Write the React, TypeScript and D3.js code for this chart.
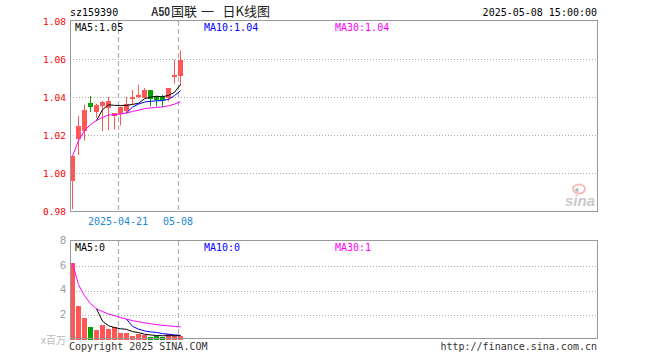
import React from 'react';
import * as d3 from 'd3';

const dates = [
  '2025-04-09', '2025-04-10', '2025-04-11', '2025-04-14', '2025-04-15', '2025-04-16', '2025-04-17',
  '2025-04-18', '2025-04-21', '2025-04-22', '2025-04-23', '2025-04-24', '2025-04-25', '2025-04-28',
  '2025-04-29', '2025-04-30', '2025-05-06', '2025-05-07', '2025-05-08',
];
const opens = [0.996, 1.018, 1.022, 1.037, 1.032, 1.0355, 1.034, 1.030, 1.031, 1.0328, 1.0389, 1.040, 1.0395, 1.0435, 1.0403, 1.040, 1.0395, 1.0507, 1.051];
const highs = [1.009, 1.030, 1.036, 1.0405, 1.0365, 1.038, 1.040, 1.0315, 1.035, 1.040, 1.0438, 1.0465, 1.0447, 1.0435, 1.0403, 1.041, 1.0445, 1.0596, 1.0645];
const lows = [0.981, 1.0095, 1.017, 1.032, 1.029, 1.022, 1.0226, 1.023, 1.025, 1.0316, 1.0363, 1.0395, 1.0395, 1.0351, 1.035, 1.0347, 1.0377, 1.047, 1.046];
const closes = [1.009, 1.025, 1.033, 1.035, 1.036, 1.0375, 1.038, 1.0315, 1.0347, 1.0363, 1.040, 1.0409, 1.0435, 1.039, 1.0386, 1.0386, 1.0445, 1.0517, 1.0595];
const volumes = [6.22, 2.73, 1.76, 1.02, 0.78, 1.2, 0.86, 1.02, 0.53, 0.53, 0.29, 0.45, 0.37, 0.2, 0.32, 0.2, 0.45, 0.37, 0.25];

const priceTicks = [1.08, 1.06, 1.04, 1.02, 1.0, 0.98];
const volTicks = [8, 6, 4, 2];
const dateTickDates = ['2025-04-21', '2025-05-08'];
const dateTickLabels = ['2025-04-21', '05-08'];
const titleParts = ['A50', '国联', '一', '日K线图'];

const SLOTS = 88;
const RED = '#ff5656';
const GREEN = '#03a303';
const MONO = '"DejaVu Sans Mono", monospace';
const CJK = '"Noto Sans CJK SC", sans-serif';

function movingAvg(arr: number[], n: number, partial: boolean): (number | null)[] {
  return arr.map((_, i) => {
    if (i < n - 1 && !partial) return null;
    const s = arr.slice(Math.max(0, i - n + 1), i + 1);
    return d3.mean(s) as number;
  });
}

export default function App() {
  const x = d3.scaleLinear().domain([0, SLOTS]).range([70, 598]);
  const yP = d3.scaleLinear().domain([0.98, 1.08]).range([211, 21]);
  const yV = d3.scaleLinear().domain([0, 8]).range([339.5, 241.5]);
  const cx = (i: number) => x(i) + 2.5;

  const ma5 = movingAvg(closes, 5, false);
  const ma10 = movingAvg(closes, 10, false);
  const ma30 = movingAvg(closes, 30, true);
  const vma5 = movingAvg(volumes, 5, false);
  const vma10 = movingAvg(volumes, 10, false);
  const vma30 = movingAvg(volumes, 30, true);

  const lineP = d3.line<number | null>().defined((d) => d != null).x((_, i) => cx(i)).y((d) => yP(d as number));
  const lineV = d3.line<number | null>().defined((d) => d != null).x((_, i) => cx(i)).y((d) => yV(d as number));

  const last = closes.length - 1;
  const fmt2 = d3.format('.2f');
  const fmt0 = d3.format('.0f');

  const tickIdx = dateTickDates.map((d) => dates.indexOf(d));
  const up = (i: number) => closes[i] >= opens[i];

  return (
    <svg width={660} height={360} style={{ position: 'absolute', left: 0, top: 0, background: '#fff' }}>
      {/* header */}
      <text x={70} y={16} fontFamily={MONO} fontSize={10} fill="#000">sz159390</text>
      <text x={151} y={16} fontFamily="Liberation Sans, sans-serif" fontWeight="bold" fontSize={12} fill="#333" textLength={19} lengthAdjust="spacingAndGlyphs">{titleParts[0]}</text>
      <text y={16} fontFamily={CJK} fontSize={13} fill="#222">
        <tspan x={171}>{titleParts[1]}</tspan>
        <tspan x={201}>{titleParts[2]}</tspan>
        <tspan x={222.5}>{titleParts[3]}</tspan>
      </text>
      <text x={597} y={16} textAnchor="end" fontFamily={MONO} fontSize={10} fill="#000">2025-05-08 15:00:00</text>

      {/* main gridlines */}
      {priceTicks.slice(1, -1).map((v) => (
        <line key={'pg' + v} x1={70} x2={598} y1={Math.round(yP(v)) + 0.5} y2={Math.round(yP(v)) + 0.5} stroke="#aaa" strokeDasharray="1,2" />
      ))}
      {tickIdx.map((i) => (
        <line key={'pv' + i} x1={x(i) + 0.5} x2={x(i) + 0.5} y1={21} y2={211} stroke="#b4b4b4" strokeWidth={1.3} strokeDasharray="5,3" />
      ))}
      {/* price labels */}
      {priceTicks.map((v) => (
        <text key={'pl' + v} x={66} y={yP(v) + 1} textAnchor="end" dominantBaseline="middle" fontFamily={MONO} fontSize={9.5} fill="#f00">{fmt2(v)}</text>
      ))}

      {/* candles */}
      {closes.map((c, i) => {
        const col = up(i) ? RED : GREEN;
        const top = yP(Math.max(opens[i], c));
        const bot = yP(Math.min(opens[i], c));
        return (
          <g key={'c' + i}>
            <line x1={cx(i)} x2={cx(i)} y1={yP(highs[i])} y2={yP(lows[i])} stroke={col} strokeWidth={1} />
            <rect x={x(i)} y={top} width={5} height={Math.max(1, bot - top)} fill={col} shapeRendering="crispEdges" />
          </g>
        );
      })}
      <path d={lineP(ma30) || ''} fill="none" stroke="#ff00ff" strokeWidth={1} />
      <path d={lineP(ma10) || ''} fill="none" stroke="#0000ff" strokeWidth={1} />
      <path d={lineP(ma5) || ''} fill="none" stroke="#000" strokeWidth={1} />

      {/* main frame */}
      <rect x={70.5} y={20.5} width={527} height={191} fill="none" stroke="#999" />

      {/* main legend */}
      <text x={75} y={31} fontFamily={MONO} fontSize={10} fill="#000">{'MA5:' + fmt2(ma5[last] as number)}</text>
      <text x={204} y={31} fontFamily={MONO} fontSize={10} fill="#0000ff">{'MA10:' + fmt2(ma10[last] as number)}</text>
      <text x={335} y={31} fontFamily={MONO} fontSize={10} fill="#ff00ff">{'MA30:' + fmt2(ma30[last] as number)}</text>

      {/* sina watermark */}
      <g opacity={0.75}>
        <ellipse cx={579} cy={189} rx={6} ry={4.5} fill="none" stroke="#f2a6a6" strokeWidth={2} />
        <circle cx={577} cy={190} r={2} fill="#aaa" />
        <text x={565} y={206} fontFamily="Liberation Sans, sans-serif" fontStyle="italic" fontWeight="bold" fontSize={15} fill="#b8b8b8">sina</text>
      </g>

      {/* date labels */}
      {tickIdx.map((i, k) => (
        <text key={'dl' + i} x={x(i)} y={225} textAnchor="middle" fontFamily={MONO} fontSize={10} fill="#1a8ad4">{dateTickLabels[k]}</text>
      ))}

      {/* volume gridlines */}
      {volTicks.slice(1).map((v) => (
        <line key={'vg' + v} x1={70} x2={598} y1={Math.round(yV(v)) + 0.5} y2={Math.round(yV(v)) + 0.5} stroke="#aaa" strokeDasharray="1,2" />
      ))}
      {tickIdx.map((i) => (
        <line key={'vv' + i} x1={x(i) + 0.5} x2={x(i) + 0.5} y1={241} y2={339} stroke="#b4b4b4" strokeWidth={1.3} strokeDasharray="5,3" />
      ))}
      {volTicks.map((v) => (
        <text key={'vl' + v} x={66} y={yV(v)} textAnchor="end" dominantBaseline="middle" fontFamily="Liberation Sans, sans-serif" fontSize={11} fill="#999">{v}</text>
      ))}
      <text x={66} y={344} textAnchor="end" fontFamily={CJK} fontSize={10} fill="#bbb">x百万</text>

      {/* volume bars */}
      {volumes.map((v, i) => (
        <rect key={'v' + i} x={x(i)} y={yV(v)} width={5} height={yV(0) - yV(v)} fill={up(i) ? RED : GREEN} shapeRendering="crispEdges" />
      ))}
      <path d={lineV(vma30) || ''} fill="none" stroke="#ff00ff" strokeWidth={1} />
      <path d={lineV(vma10) || ''} fill="none" stroke="#0000ff" strokeWidth={1} />
      <path d={lineV(vma5) || ''} fill="none" stroke="#000" strokeWidth={1} />

      <rect x={70.5} y={240.5} width={527} height={98} fill="none" stroke="#999" />

      <text x={75} y={251} fontFamily={MONO} fontSize={10} fill="#000">{'MA5:' + fmt0(vma5[last] as number)}</text>
      <text x={204} y={251} fontFamily={MONO} fontSize={10} fill="#0000ff">{'MA10:' + fmt0(vma10[last] as number)}</text>
      <text x={335} y={251} fontFamily={MONO} fontSize={10} fill="#ff00ff">{'MA30:' + fmt0(vma30[last] as number)}</text>

      {/* footer */}
      <text x={69} y={350} fontFamily={MONO} fontSize={10} fill="#333">Copyright 2025 SINA.COM</text>
      <text x={597} y={350} textAnchor="end" fontFamily={MONO} fontSize={10} fill="#333">http://finance.sina.com.cn</text>
    </svg>
  );
}
